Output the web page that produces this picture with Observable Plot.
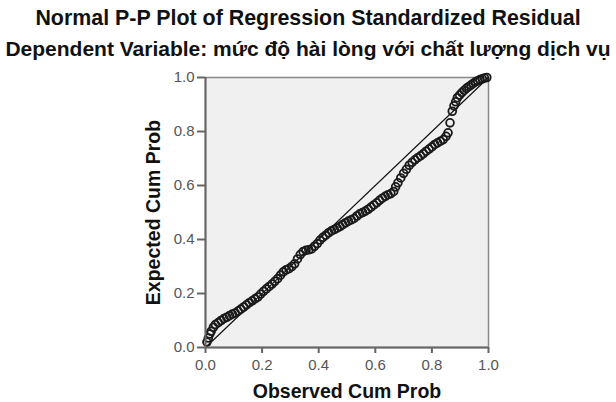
<!DOCTYPE html>
<html><head><meta charset="utf-8">
<script src="https://cdn.jsdelivr.net/npm/d3@7"></script>
<script src="https://cdn.jsdelivr.net/npm/@observablehq/plot@0.6"></script>
<style>
body{margin:0;background:#fff;font-family:"Liberation Sans",Arial,sans-serif;}
#wrap{position:relative;width:616px;height:402px;overflow:hidden}
.t{position:absolute;left:0;width:616px;text-align:center;color:#111;white-space:nowrap;line-height:24px}
#title{top:6px;font-size:21.4px;font-weight:bold}
#sub{top:37px;font-size:21px;font-weight:bold}
#chart{position:absolute;left:0;top:62px}
</style></head><body>
<div id="wrap">
<div class="t" id="title">Normal P-P Plot of Regression Standardized Residual</div>
<div class="t" id="sub">Dependent Variable: mức độ hài lòng với chất lượng dịch vụ</div>
<div id="chart"></div>
</div>
<script>
const observed = [0.005,0.01,0.015,0.02,0.028,0.035,0.045,0.055,0.065,0.075,0.085,0.095,0.105,0.115,0.125,0.135,0.145,0.155,0.165,0.175,0.185,0.195,0.205,0.215,0.225,0.235,0.245,0.255,0.265,0.275,0.285,0.295,0.305,0.315,0.325,0.335,0.345,0.355,0.365,0.375,0.385,0.395,0.405,0.415,0.425,0.435,0.445,0.455,0.465,0.475,0.485,0.495,0.505,0.515,0.525,0.535,0.545,0.555,0.565,0.575,0.585,0.595,0.605,0.615,0.625,0.635,0.645,0.655,0.665,0.672,0.68,0.69,0.70,0.71,0.72,0.73,0.74,0.75,0.76,0.77,0.78,0.79,0.80,0.81,0.82,0.83,0.84,0.85,0.857,0.864,0.872,0.878,0.884,0.89,0.898,0.906,0.914,0.922,0.93,0.938,0.946,0.954,0.962,0.97,0.978,0.986,0.994];
const expected = [0.02,0.035,0.05,0.06,0.075,0.085,0.092,0.1,0.107,0.112,0.118,0.124,0.128,0.135,0.142,0.15,0.158,0.166,0.173,0.18,0.187,0.198,0.208,0.217,0.226,0.235,0.245,0.255,0.268,0.28,0.288,0.292,0.3,0.31,0.328,0.344,0.355,0.36,0.362,0.365,0.375,0.385,0.398,0.408,0.416,0.425,0.432,0.437,0.442,0.448,0.455,0.462,0.468,0.473,0.478,0.487,0.495,0.5,0.505,0.512,0.52,0.528,0.536,0.545,0.553,0.56,0.566,0.57,0.578,0.595,0.61,0.628,0.645,0.66,0.675,0.686,0.695,0.703,0.71,0.718,0.727,0.735,0.743,0.752,0.758,0.764,0.77,0.782,0.795,0.832,0.875,0.895,0.91,0.925,0.935,0.944,0.952,0.96,0.966,0.972,0.978,0.984,0.988,0.992,0.995,0.998,1.0];
const tickValues = [0, 0.2, 0.4, 0.6, 0.8, 1.0];
const tickLabels = ["0.0", "0.2", "0.4", "0.6", "0.8", "1.0"];
const refLine = [0, 1];
const xTitle = "Observed Cum Prob";
const yTitle = "Expected Cum Prob";

const points = observed.map((x, i) => ({x, y: expected[i]}));
const refData = refLine.map(v => ({x: v, y: v}));
const fmt = d => tickLabels[tickValues.indexOf(d)];
const font = '"Liberation Sans", Arial, sans-serif';

const chart = Plot.plot({
  width: 616, height: 340,
  marginLeft: 205, marginRight: 128, marginTop: 15, marginBottom: 55,
  x: {domain: [0, 1]},
  y: {domain: [0, 1]},
  style: {fontFamily: font, fontSize: "15px", color: "#555", background: "transparent", overflow: "visible"},
  marks: [
    Plot.frame({fill: "#f0f0f0", stroke: "#888", strokeWidth: 1.5}),
    Plot.line(refData, {x: "x", y: "y", stroke: "#111", strokeWidth: 1.2}),
    Plot.dot(points, {x: "x", y: "y", r: 3.9, stroke: "#1a1a1a", strokeWidth: 1.8, fill: "none"}),
    Plot.ruleX([0], {stroke: "#666", strokeWidth: 2}),
    Plot.ruleY([0], {stroke: "#666", strokeWidth: 2}),
    Plot.axisX({ticks: tickValues, tickFormat: fmt, tickSize: 6, tickPadding: 6, label: null, stroke: "#666", strokeWidth: 2, fill: "#555"}),
    Plot.axisY({ticks: tickValues, tickFormat: fmt, tickSize: 8, tickPadding: 3, label: null, stroke: "#666", strokeWidth: 2, fill: "#555"}),
    Plot.text([xTitle], {frameAnchor: "bottom", dy: 50, fontSize: 19.5, fontWeight: "bold", fill: "#111"}),
    Plot.text([yTitle], {frameAnchor: "left", dx: -52, rotate: -90, textAnchor: "middle", fontSize: 19.5, fontWeight: "bold", fill: "#111"})
  ]
});
document.getElementById("chart").appendChild(chart);
</script>
</body></html>
